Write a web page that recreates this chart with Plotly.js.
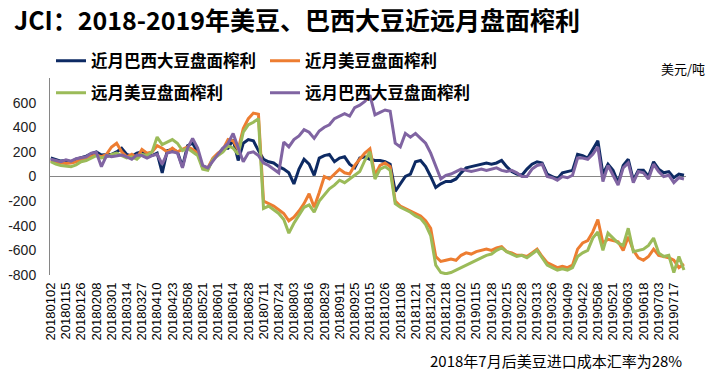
<!DOCTYPE html>
<html>
<head>
<meta charset="utf-8">
<script src="https://cdn.plot.ly/plotly-3.0.1.min.js"></script>
<style>
html,body{margin:0;padding:0;background:#fff;}
#chart{width:718px;height:372px;}
</style>
</head>
<body>
<div id="chart"></div>
<script>
// Category tick labels (one every 9 trading days)
const dateLabels = ["20180102","20180115","20180126","20180208","20180301","20180314","20180327","20180410","20180423","20180508","20180521","20180601","20180614","20180628","20180711","20180724","20180803","20180816","20180829","20180911","20180925","20181015","20181026","20181108","20181121","20181204","20181218","20190102","20190115","20190128","20190215","20190228","20190313","20190326","20190409","20190422","20190508","20190521","20190603","20190618","20190703","20190717"];

// Sampled series values (3 samples per labelled interval), USD/ton
const nearBrazil = [150,140,125,130,120,140,150,165,185,200,
 175,175,180,200,230,180,165,190,200,175,
 170,190,30,210,220,200,80,250,270,200,
 70,60,140,180,230,230,300,130,270,300,
 290,210,140,120,110,80,60,30,-60,60,
 140,100,10,150,170,180,120,150,160,100,
 70,150,160,140,130,130,120,100,-120,-60,
 0,20,120,130,80,0,-90,-60,-40,-40,
 -20,30,70,80,90,100,110,100,110,130,
 80,40,20,10,60,100,120,110,20,0,
 -20,30,40,50,180,170,150,220,290,20,
 100,50,-50,90,140,-30,50,50,0,120,
 60,30,40,-10,20,10];

const nearUS = [130,115,110,105,110,120,140,150,165,175,
 160,180,240,270,200,160,180,150,220,190,
 200,250,230,200,230,200,220,240,220,190,
 80,70,150,190,220,300,290,220,390,470,
 515,505,-200,-220,-240,-270,-300,-360,-330,-280,
 -220,-140,-250,-130,0,-20,20,60,30,20,
 90,140,190,225,10,90,110,80,-200,-240,
 -260,-280,-300,-320,-360,-420,-650,-690,-680,-670,
 -680,-640,-620,-630,-610,-600,-590,-600,-580,-570,
 -610,-620,-640,-640,-650,-620,-590,-650,-700,-720,
 -740,-730,-740,-720,-590,-540,-520,-450,-350,-540,
 -510,-520,-530,-600,-490,-600,-660,-680,-650,-590,
 -640,-650,-660,-680,-740,-710];

const farUS = [120,100,90,85,80,95,120,130,150,170,
 150,160,180,190,170,150,160,140,180,170,
 200,320,260,280,300,270,210,230,200,170,
 60,50,140,170,200,250,230,180,360,420,
 440,470,-260,-240,-270,-300,-350,-460,-380,-320,
 -250,-230,-290,-200,-150,-100,-70,-30,-50,-20,
 10,40,130,200,-20,60,80,50,-220,-250,
 -270,-290,-320,-340,-390,-480,-720,-780,-790,-780,
 -760,-740,-720,-700,-680,-660,-640,-630,-600,-580,
 -610,-630,-650,-640,-660,-630,-600,-660,-720,-740,
 -760,-750,-760,-740,-650,-620,-600,-500,-450,-600,
 -460,-500,-540,-560,-420,-610,-600,-590,-560,-500,
 -620,-650,-640,-780,-650,-760];

const farBrazil = [140,130,120,135,125,145,150,160,190,195,
 80,170,160,170,175,160,140,175,170,150,
 170,180,100,190,200,190,70,230,310,230,
 90,70,130,180,230,270,350,230,120,190,
 200,170,110,90,60,30,280,240,300,330,
 380,360,310,370,400,420,470,490,510,490,
 560,580,610,660,500,520,540,530,270,240,
 350,320,350,310,270,190,80,-20,10,20,
 40,60,50,40,50,60,50,60,70,50,
 40,50,30,0,0,60,90,100,0,-10,
 -30,0,-10,10,150,150,140,180,240,-40,
 90,10,-70,70,110,-50,40,30,-20,100,
 40,0,10,-50,-10,-20];

const seriesNames = ["近月巴西大豆盘面榨利","近月美豆盘面榨利","远月美豆盘面榨利","远月巴西大豆盘面榨利"];
const seriesColors = ["#0d2a63","#ed7d31","#9bbb59","#8064a2"];
const yTicks = [600,400,200,0,-200,-400,-600,-800];

const samplesPerLabel = 3;
const xs = arr => arr.map((_, i) => i / samplesPerLabel);

const allSeries = [nearBrazil, nearUS, farUS, farBrazil];
const legendIds = ["legend","legend2","legend3","legend4"];
// legend placement (container px): [left x, row centre y]
const legendPos = [[51,61],[265,61],[51,93],[265,93]];

const traces = allSeries.map((vals, i) => ({
  type: "scatter",
  mode: "lines",
  x: xs(vals),
  y: vals,
  name: seriesNames[i],
  legend: legendIds[i],
  line: {color: seriesColors[i], width: 3},
  hoverinfo: "skip"
}));

const cjk = "'Noto Sans CJK SC', 'Noto Sans', sans-serif";
const W = 718, H = 372;

const layout = {
  width: W, height: H,
  paper_bgcolor: "#fff", plot_bgcolor: "#fff",
  margin: {l: 50, r: 32, t: 78, b: 96.5, autoexpand: false},
  showlegend: true,
  title: {
    text: "JCI：2018-2019年美豆、巴西大豆近远月盘面榨利",
    font: {family: cjk, size: 25, color: "#000", weight: 700},
    xref: "container", yref: "container",
    x: 14/W, xanchor: "left",
    y: 1 - 21/H, yanchor: "middle"
  },
  xaxis: {
    type: "linear",
    range: [-0.05, 41.8],
    tickmode: "array",
    tickvals: dateLabels.map((_, i) => i),
    ticktext: dateLabels,
    tickangle: -90,
    tickfont: {family: "'Liberation Sans', Arial, sans-serif", size: 13, color: "#000"},
    showgrid: false, zeroline: false, showline: false,
    ticks: "", ticklabelstandoff: 4, automargin: false,
    fixedrange: true
  },
  yaxis: {
    range: [-800, 800],
    tickmode: "array",
    tickvals: yTicks,
    ticktext: yTicks.map(String),
    tickfont: {family: "'Liberation Sans', Arial, sans-serif", size: 14, color: "#222"},
    showgrid: false,
    zeroline: true, zerolinecolor: "#868686", zerolinewidth: 1,
    showline: true, linecolor: "#868686", linewidth: 1,
    ticks: "", ticklabelstandoff: 10, automargin: false,
    fixedrange: true
  },
  annotations: [
    {
      text: "美元/吨", xref: "paper", yref: "paper",
      x: (707-50)/636, y: (275.5-68)/197.5,
      xanchor: "right", yanchor: "middle", showarrow: false,
      font: {family: cjk, size: 13, color: "#000"}
    },
    {
      text: "2018年7月后美豆进口成本汇率为28%", xref: "paper", yref: "paper",
      x: (684-50)/636, y: (275.5-361)/197.5,
      xanchor: "right", yanchor: "middle", showarrow: false,
      font: {family: cjk, size: 15, color: "#000"}
    }
  ]
};

legendIds.forEach((id, i) => {
  layout[id] = {
    orientation: "h",
    xref: "container", yref: "container",
    xanchor: "left", yanchor: "middle",
    x: legendPos[i][0] / W,
    y: 1 - legendPos[i][1] / H,
    bgcolor: "rgba(255,255,255,0)",
    borderwidth: 0,
    font: {family: cjk, size: 16.5, color: "#000", weight: 700}
  };
});

Plotly.newPlot("chart", traces, layout, {displayModeBar: false, staticPlot: true});
</script>
</body>
</html>
